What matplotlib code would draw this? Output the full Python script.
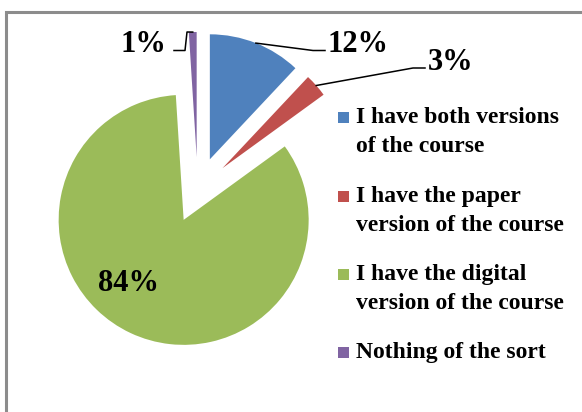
import math
import matplotlib
matplotlib.use("Agg")
import matplotlib.pyplot as plt
from matplotlib.patches import Rectangle

# Survey answers
categories = [
    "I have both versions\nof the course",
    "I have the paper\nversion of the course",
    "I have the digital\nversion of the course",
    "Nothing of the sort",
]
shares = [12, 3, 84, 1]
colors = ["#4F81BD", "#C0504D", "#9BBB59", "#8064A2"]

W, H = 582, 412
fig = plt.figure(figsize=(W / 100, H / 100), dpi=100)
ax = fig.add_axes([0, 0, 1, 1])
ax.set_xlim(0, W)
ax.set_ylim(0, H)
ax.set_aspect("equal")
ax.axis("off")


def py(y):
    """Convert a top-down pixel row into the axes' y value."""
    return H - y


serif = ["Liberation Serif", "DejaVu Serif"]

# Chart frame (top and left edges visible)
ax.plot([5.5, 5.5, W], [py(H), py(11.5), py(11.5)], color="#8c8c8c", lw=2.2,
        solid_joinstyle="miter", clip_on=False)

radius = 125
wedges, _ = ax.pie(shares, colors=colors, startangle=90, counterclock=False,
                   explode=[33] * len(shares), radius=radius,
                   center=(197.7, py(190)), wedgeprops=dict(linewidth=0),
                   frame=True)
ax.set_xlim(0, W)
ax.set_ylim(0, H)
ax.axis("off")


def arc_mid(w):
    ang = math.radians((w.theta1 + w.theta2) / 2)
    cx, cy = w.center
    return cx + w.r * math.cos(ang), cy + w.r * math.sin(ang)


label_kw = dict(fontsize=22, fontweight="bold", family=serif, color="black")
lines_kw = dict(color="black", lw=1.1)

# 12% label with leader
x0, y0 = arc_mid(wedges[0])
ax.plot([x0, 313, 325], [y0, py(50.5), py(50.5)], **lines_kw)
ax.text(328, py(52), f"{shares[0]}%", ha="left", va="baseline", **label_kw)

# 3% label with leader
x0, y0 = arc_mid(wedges[1])
ax.plot([x0, 413, 425], [y0, py(68), py(68)], **lines_kw)
ax.text(428, py(70), f"{shares[1]}%", ha="left", va="baseline", **label_kw)

# 84% label inside the slice
ax.text(128.7, py(291), f"{shares[2]}%", ha="center", va="baseline", **label_kw)

# 1% label with leader
x0, y0 = arc_mid(wedges[3])
ax.plot([x0, 187, 185, 174], [y0, py(32), py(50.5), py(50.5)], **lines_kw)
ax.text(166, py(52), f"{shares[3]}%", ha="right", va="baseline", **label_kw)

# Legend
for i, (name, c) in enumerate(zip(categories, colors)):
    base = 123.3 + i * 78.3
    ax.add_patch(Rectangle((338, py(base)), 11, 11, facecolor=c, edgecolor="none"))
    first, *rest = name.split("\n")
    ax.text(356, py(base), first, ha="left", va="baseline", fontsize=17,
            fontweight="bold", family=serif)
    for j, line in enumerate(rest, start=1):
        ax.text(356, py(base + 29 * j), line, ha="left", va="baseline",
                fontsize=17, fontweight="bold", family=serif)

fig.savefig("out.png", dpi=100, facecolor="white")
